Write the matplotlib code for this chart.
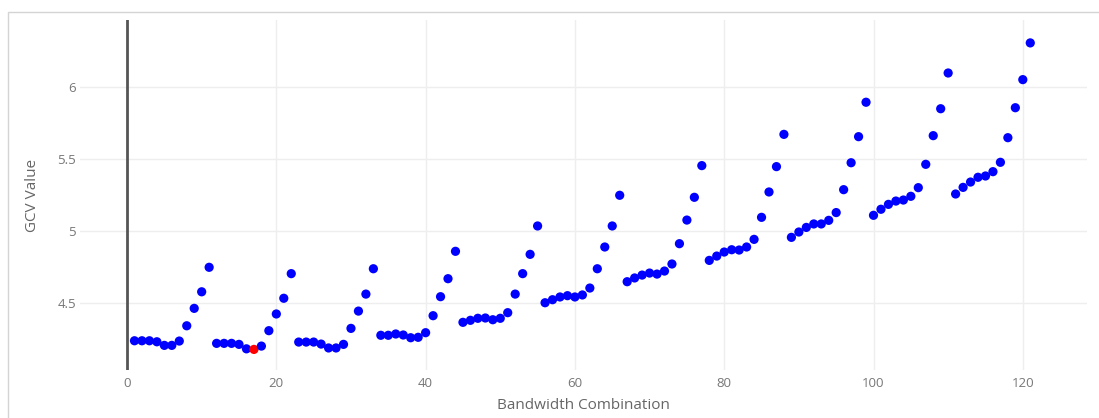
import numpy as np
import matplotlib.pyplot as plt
from matplotlib.patches import Rectangle

plt.rcParams['font.family'] = ['Open Sans', 'DejaVu Sans']

# GCV value for each bandwidth combination (1..121)
combo = np.arange(1, 122)
gcv = [
    4.238, 4.238, 4.238, 4.231, 4.206, 4.206, 4.236, 4.342, 4.463, 4.578, 4.748,
    4.220, 4.220, 4.220, 4.213, 4.182, 4.178, 4.201, 4.308, 4.424, 4.533, 4.704,
    4.229, 4.229, 4.229, 4.215, 4.188, 4.188, 4.213, 4.324, 4.444, 4.562, 4.738,
    4.276, 4.276, 4.285, 4.278, 4.259, 4.262, 4.294, 4.412, 4.544, 4.669, 4.859,
    4.366, 4.380, 4.394, 4.396, 4.384, 4.394, 4.433, 4.562, 4.704, 4.838, 5.035,
    4.502, 4.523, 4.542, 4.551, 4.542, 4.556, 4.604, 4.738, 4.889, 5.035, 5.248,
    4.648, 4.674, 4.694, 4.708, 4.701, 4.722, 4.771, 4.912, 5.076, 5.234, 5.454,
    4.796, 4.826, 4.854, 4.870, 4.868, 4.889, 4.942, 5.095, 5.271, 5.447, 5.671,
    4.956, 4.993, 5.025, 5.049, 5.049, 5.074, 5.128, 5.287, 5.474, 5.655, 5.894,
    5.109, 5.151, 5.185, 5.208, 5.215, 5.241, 5.301, 5.463, 5.662, 5.849, 6.097,
    5.257, 5.303, 5.340, 5.373, 5.382, 5.412, 5.477, 5.648, 5.856, 6.051, 6.306,
]
gcv = np.array(gcv)
best = int(np.argmin(gcv))

fig = plt.figure(figsize=(10.99, 4.18), dpi=100)
fig.patches.append(Rectangle((8 / 1099, -0.1), 1.2, 1 - 12 / 418 + 0.1,
                             transform=fig.transFigure, fill=False,
                             edgecolor='#d4d4d4', linewidth=1))
ax = fig.add_axes([80 / 1099, 48 / 418, 1007 / 1099, 350 / 418])

colors = ['#0000ff'] * len(gcv)
colors[best] = '#ff0000'
ax.scatter(combo, gcv, s=44, c=colors, linewidths=0, zorder=3)

ax.set_xlim(-6.3, 128.6)
ax.set_ylim(4.035, 6.465)
ax.set_xticks([0, 20, 40, 60, 80, 100, 120])
ax.set_yticks([4.5, 5, 5.5, 6])
ax.set_yticklabels(['4.5', '5', '5.5', '6'])

for x in [20, 40, 60, 80, 100, 120]:
    ax.axvline(x, color='#eeeeee', linewidth=1, zorder=1)
for y in [4.5, 5, 5.5, 6]:
    ax.axhline(y, color='#eeeeee', linewidth=1, zorder=1)
ax.axvline(0, color='#555555', linewidth=2, zorder=2)

for s in ax.spines.values():
    s.set_visible(False)
ax.tick_params(length=0, colors='#777777', labelsize=9.5)
ax.tick_params(axis='x', pad=5)
ax.tick_params(axis='y', pad=3)

ax.set_xlabel('Bandwidth Combination', color='#666666', fontsize=11, labelpad=6)
ax.set_ylabel('GCV Value', color='#666666', fontsize=11, labelpad=12)

fig.savefig('out.png', dpi=100)
